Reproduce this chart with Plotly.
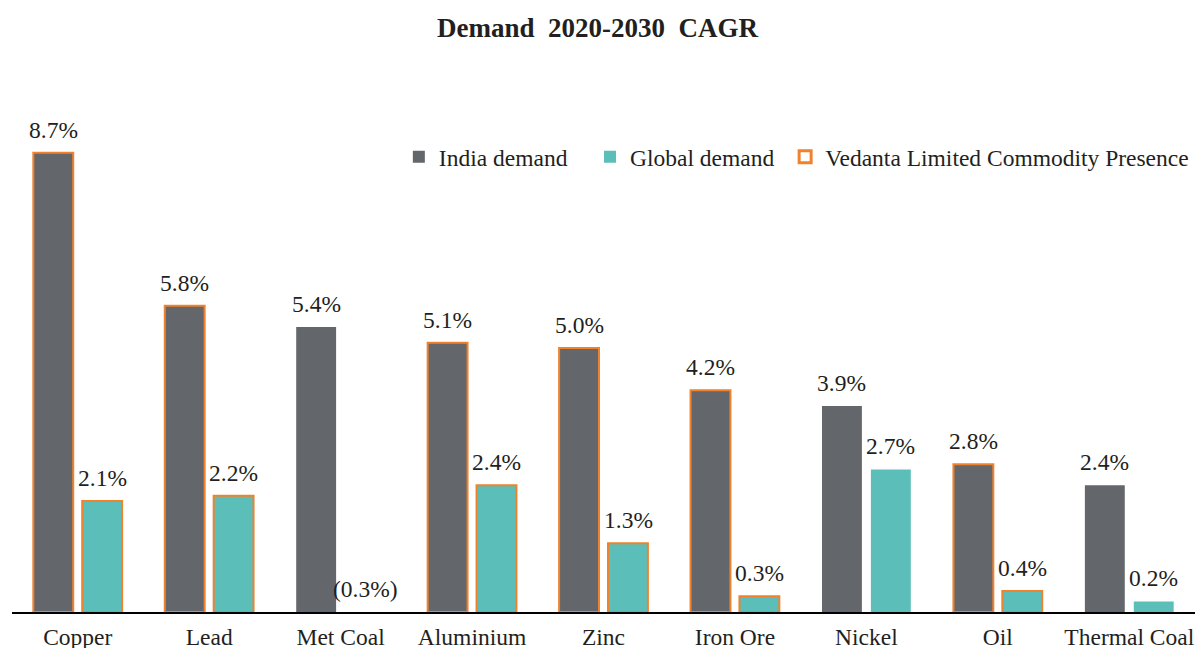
import plotly.graph_objects as go

categories = ["Copper", "Lead", "Met Coal", "Aluminium", "Zinc", "Iron Ore", "Nickel", "Oil", "Thermal Coal"]
india_demand = [8.7, 5.8, 5.4, 5.1, 5.0, 4.2, 3.9, 2.8, 2.4]
global_demand = [2.1, 2.2, -0.3, 2.4, 1.3, 0.3, 2.7, 0.4, 0.2]
vedanta_presence = [True, True, False, True, True, True, False, True, False]
legend_names = ["India demand", "Global demand", "Vedanta Limited Commodity Presence"]

GRAY = "#63676B"
TEAL = "#5CBEB9"
ORANGE = "#F0822E"
FONT = "Liberation Serif"
TXT = "#231F20"
FS = 23.5

line_colors = [ORANGE if p else "rgba(0,0,0,0)" for p in vedanta_presence]
line_widths = [2 if p else 0 for p in vedanta_presence]

def fmt(v):
    return f"({abs(v):.1f}%)" if v < 0 else f"{v:.1f}%"

fig = go.Figure()
fig.add_trace(go.Bar(name=legend_names[0], x=categories, y=india_demand, showlegend=False,
                     marker=dict(color=GRAY, line=dict(color=line_colors, width=line_widths))))
fig.add_trace(go.Bar(name=legend_names[1], x=categories, y=global_demand, showlegend=False,
                     marker=dict(color=TEAL, line=dict(color=line_colors, width=line_widths))))

# legend entries (padding with non-breaking spaces to match item spacing)
pads = ["&nbsp;&nbsp;&nbsp;", "&nbsp;", ""]
for name, pad, fill, lc, lw in zip(legend_names, pads,
                                   (GRAY, TEAL, "white"), (GRAY, TEAL, ORANGE), (0, 0, 3)):
    fig.add_trace(go.Scatter(x=[None], y=[None], mode="markers", name=name + pad,
                             marker=dict(symbol="square", size=12, color=fill,
                                         line=dict(color=lc, width=lw))))

annotations = []
for series, shift in ((india_demand, -24.5), (global_demand, 24.5)):
    for c, v in zip(categories, series):
        annotations.append(dict(x=c, y=max(v, 0), xref="x", yref="y", text=fmt(v),
                                showarrow=False, xshift=shift, yshift=8, yanchor="bottom",
                                font=dict(family=FONT, size=FS, color=TXT)))

fig.update_layout(
    width=1195, height=648,
    margin=dict(l=12, r=0, t=84, b=36, autoexpand=False),
    paper_bgcolor="white", plot_bgcolor="white",
    barmode="group", bargap=0.256, bargroupgap=0.184,
    title=dict(text="<b>Demand&nbsp;&nbsp;2020-2030&nbsp;&nbsp;CAGR</b>", x=0.5, xanchor="center",
               y=0.957, yanchor="middle",
               font=dict(family=FONT, size=27, color=TXT)),
    font=dict(family=FONT, size=FS, color=TXT),
    legend=dict(orientation="h", x=0.327, xanchor="left", y=0.862, yanchor="middle",
                font=dict(family=FONT, size=FS, color=TXT), itemwidth=30, traceorder="normal",
                bgcolor="rgba(0,0,0,0)"),
    xaxis=dict(showline=True, linecolor="black", linewidth=1.5, ticks="", showgrid=False,
               ticklabelstandoff=3,
               tickfont=dict(family=FONT, size=FS, color=TXT)),
    yaxis=dict(range=[0, 10], visible=False, showgrid=False, zeroline=False),
    annotations=annotations,
    showlegend=True,
)
fig.write_html("out.html", config={"displayModeBar": False},
               post_script="document.body.style.margin='0';document.body.style.overflow='hidden';")
